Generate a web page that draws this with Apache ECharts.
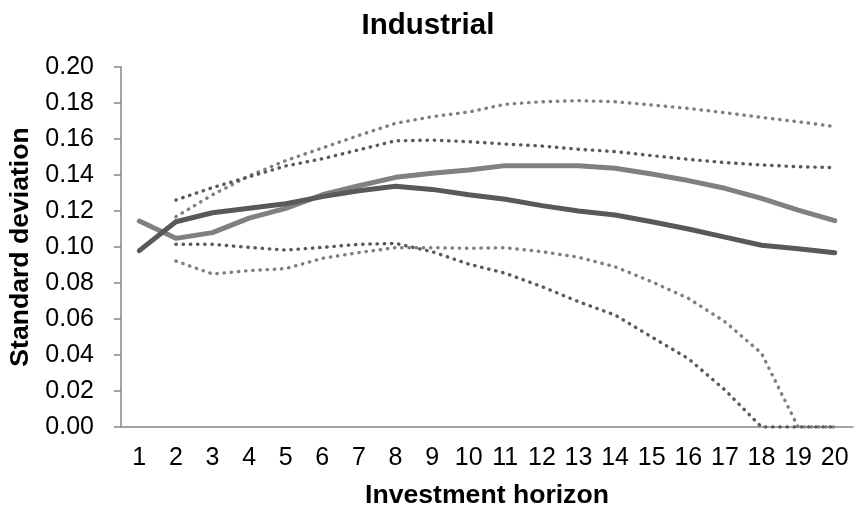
<!DOCTYPE html>
<html>
<head>
<meta charset="utf-8">
<title>Industrial</title>
<script src="https://cdn.jsdelivr.net/npm/echarts@6/dist/echarts.min.js"></script>
<style>
  html, body { margin: 0; padding: 0; background: #fff; }
  #industrial { width: 856px; height: 507px; }
</style>
</head>
<body>
<div id="industrial"></div>
<script>
// investment horizon (years)
var horizon = ['1','2','3','4','5','6','7','8','9','10','11','12','13','14','15','16','17','18','19','20'];

// solid lines
var sdDark  = [0.098,0.114,0.119,0.1215,0.124,0.128,0.1313,0.1338,0.132,0.129,0.1265,0.123,0.120,0.1178,0.114,0.110,0.1055,0.101,0.099,0.0968];
var sdLight = [0.1144,0.1048,0.108,0.116,0.1215,0.129,0.134,0.1387,0.141,0.1428,0.1452,0.1452,0.1452,0.1437,0.1406,0.1369,0.1326,0.127,0.1205,0.1146];

// dotted bands (no value at horizon 1)
var bandDarkUp   = [null,0.1261,0.133,0.139,0.145,0.149,0.154,0.159,0.1594,0.1585,0.1572,0.1561,0.1543,0.153,0.1508,0.1487,0.1469,0.1456,0.1446,0.1441];
var bandDarkLow  = [null,0.1015,0.1015,0.0998,0.0983,0.0998,0.1015,0.102,0.0974,0.0905,0.0854,0.078,0.0696,0.0622,0.050,0.038,0.0206,0,0,0];
var bandLightUp  = [null,0.1168,0.129,0.1395,0.148,0.155,0.162,0.1687,0.1724,0.175,0.1793,0.1807,0.1813,0.1807,0.1789,0.177,0.1746,0.172,0.1696,0.1669];
var bandLightLow = [null,0.0922,0.085,0.0869,0.088,0.0937,0.0969,0.0996,0.0996,0.0993,0.0996,0.0974,0.0943,0.089,0.0807,0.0715,0.0585,0.041,0,0];

var yTicks = { min: 0, max: 0.2, step: 0.02 };

(function (divId) {
    var font = '"Liberation Sans", Arial, sans-serif';

    function dotted(name, data, color) {
        return {
            name: name,
            type: 'line',
            data: data,
            symbol: 'none',
            connectNulls: false,
            lineStyle: { color: color, width: 3.4, type: [0.4, 6.8], cap: 'round' },
            z: 2
        };
    }
    function solid(name, data, color) {
        return {
            name: name,
            type: 'line',
            data: data,
            symbol: 'none',
            lineStyle: { color: color, width: 5, cap: 'round', join: 'round' },
            z: 3
        };
    }

    var option = {
        animation: false,
        backgroundColor: '#ffffff',
        title: {
            text: 'Industrial',
            left: 'center',
            top: 6,
            textStyle: { fontFamily: font, fontSize: 29.5, fontWeight: 'bold', color: '#000' }
        },
        grid: { left: 121, right: 3, top: 67, bottom: 80, containLabel: false, outerBoundsMode: 'none' },
        xAxis: {
            type: 'category',
            data: horizon,
            boundaryGap: true,
            name: 'Investment horizon',
            nameLocation: 'middle',
            nameGap: 55,
            nameTextStyle: { fontFamily: font, fontSize: 26.6, fontWeight: 'bold', color: '#000' },
            axisLine: { lineStyle: { color: '#868686', width: 1.5 } },
            axisTick: { show: false },
            axisLabel: { fontFamily: font, fontSize: 25, color: '#000', margin: 19, interval: 0 },
            splitLine: { show: false }
        },
        yAxis: {
            type: 'value',
            min: yTicks.min,
            max: yTicks.max,
            interval: yTicks.step,
            name: 'Standard deviation',
            nameLocation: 'middle',
            nameGap: 82,
            nameTextStyle: { fontFamily: font, fontSize: 26.6, fontWeight: 'bold', color: '#000' },
            axisLine: { show: true, lineStyle: { color: '#868686', width: 1.5 } },
            axisTick: { show: true, length: 7, inside: false, lineStyle: { color: '#868686', width: 1.5 } },
            axisLabel: {
                fontFamily: font, fontSize: 25, color: '#000', margin: 27,
                formatter: function (v) { return v.toFixed(2); }
            },
            splitLine: { show: false }
        },
        series: [
            dotted('Upper band (light)', bandLightUp, '#7f7f7f'),
            dotted('Lower band (light)', bandLightLow, '#7f7f7f'),
            dotted('Upper band (dark)', bandDarkUp, '#595959'),
            dotted('Lower band (dark)', bandDarkLow, '#595959'),
            solid('Light', sdLight, '#808080'),
            solid('Dark', sdDark, '#595959')
        ]
    };

    var myChart = echarts.init(document.getElementById(divId));
    myChart.setOption(option);
})('industrial');
</script>
</body>
</html>
